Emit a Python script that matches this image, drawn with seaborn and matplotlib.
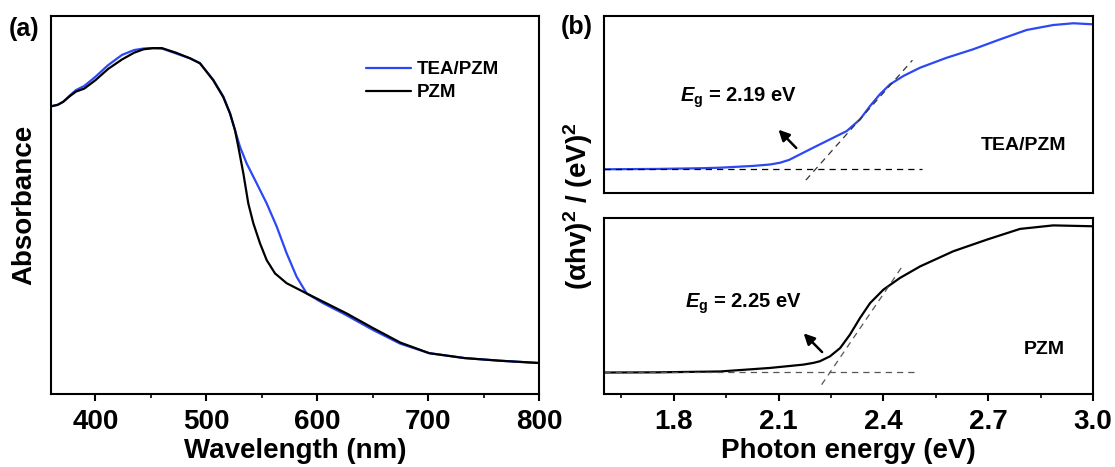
import matplotlib
matplotlib.use("Agg")
import matplotlib.pyplot as plt
from matplotlib.ticker import MultipleLocator, NullLocator
import seaborn as sns

# ---- data: panel (a) absorbance (arbitrary units) ----
wl_tea = [360, 366, 371, 377, 382.5, 390, 400, 411.5, 424, 435, 443.6, 452, 460, 472.6, 485.4,
          494.3, 506.3, 515.4, 521.4, 525.9, 530.4, 536.4, 545.5, 554.5, 563.5, 572.5, 581.5,
          590.5, 605.5, 623.5, 650.6, 675, 701, 733, 765, 800]
abs_tea = [0.761, 0.765, 0.773, 0.790, 0.804, 0.815, 0.839, 0.870, 0.897, 0.910, 0.914, 0.915,
           0.914, 0.901, 0.888, 0.875, 0.831, 0.787, 0.743, 0.698, 0.654, 0.610, 0.557, 0.504,
           0.443, 0.372, 0.310, 0.266, 0.240, 0.213, 0.169, 0.133, 0.108, 0.095, 0.088, 0.082]
wl_pzm = [360, 366, 371, 377, 382.5, 390, 400, 411.5, 424, 435, 443.6, 452, 460, 472.6, 485.4,
          494.3, 506.3, 515.4, 521.4, 525.9, 528.9, 533.4, 537.9, 542.4, 548.4, 554.5, 562,
          572.5, 590.5, 605.5, 626.6, 650.6, 675, 701, 733, 765, 800]
abs_pzm = [0.761, 0.765, 0.773, 0.788, 0.800, 0.808, 0.830, 0.860, 0.885, 0.903, 0.912, 0.915,
           0.915, 0.903, 0.888, 0.875, 0.830, 0.785, 0.742, 0.698, 0.654, 0.584, 0.504, 0.452,
           0.399, 0.354, 0.319, 0.293, 0.266, 0.244, 0.213, 0.174, 0.136, 0.108, 0.095, 0.088,
           0.082]

# ---- data: panel (b) Tauc plots ----
e_tea = [1.6, 1.75, 1.879, 1.932, 2.027, 2.075, 2.104, 2.130, 2.152, 2.199, 2.247, 2.295,
         2.333, 2.362, 2.390, 2.419, 2.457, 2.505, 2.581, 2.657, 2.734, 2.810, 2.886, 2.944, 3.0]
t_tea = [0.134, 0.136, 0.140, 0.143, 0.153, 0.161, 0.171, 0.187, 0.209, 0.256, 0.303, 0.350,
         0.416, 0.492, 0.558, 0.614, 0.661, 0.708, 0.764, 0.812, 0.868, 0.921, 0.949, 0.959,
         0.953]
e_pzm = [1.6, 1.75, 1.932, 2.075, 2.171, 2.200, 2.218, 2.247, 2.276, 2.304, 2.333, 2.362,
         2.400, 2.447, 2.505, 2.600, 2.696, 2.791, 2.886, 3.0]
t_pzm = [0.122, 0.123, 0.128, 0.148, 0.167, 0.177, 0.186, 0.214, 0.261, 0.337, 0.432, 0.517,
         0.593, 0.659, 0.725, 0.811, 0.877, 0.938, 0.958, 0.953]

base_tea_x = [1.6, 2.510]
base_tea_y = [0.134, 0.134]
tan_tea_x = [2.178, 2.483]
tan_tea_y = [0.073, 0.750]
base_pzm_x = [1.6, 2.495]
base_pzm_y = [0.123, 0.123]
tan_pzm_x = [2.223, 2.459]
tan_pzm_y = [0.053, 0.740]

wl_ticks = [400, 500, 600, 700, 800]
e_ticks = [1.8, 2.1, 2.4, 2.7, 3.0]

BLUE = "#2C48F5"

sns.set_style("ticks")
plt.rcParams['font.family'] = ['Liberation Sans', 'DejaVu Sans']
plt.rcParams['font.weight'] = 'bold'
plt.rcParams['axes.linewidth'] = 1.5
plt.rcParams['text.color'] = 'black'
plt.rcParams['axes.labelcolor'] = 'black'
plt.rcParams['xtick.color'] = 'black'
plt.rcParams['ytick.color'] = 'black'
plt.rcParams['mathtext.fontset'] = 'custom'
plt.rcParams['mathtext.rm'] = 'Liberation Sans:bold'
plt.rcParams['mathtext.it'] = 'Liberation Sans:italic:bold'
plt.rcParams['mathtext.bf'] = 'Liberation Sans:bold'

W, H = 1115, 467
fig = plt.figure(figsize=(W / 100, H / 100), dpi=100)

def rect(l, r, t, b):
    return [l / W, (H - b) / H, (r - l) / W, (b - t) / H]

axa = fig.add_axes(rect(51, 539, 16, 394))
axb1 = fig.add_axes(rect(604, 1093, 16, 193))
axb2 = fig.add_axes(rect(604, 1093, 218, 394))

# ---- panel (a) ----
sns.lineplot(x=wl_tea, y=abs_tea, ax=axa, color=BLUE, lw=1.6, label="TEA/PZM", sort=False)
sns.lineplot(x=wl_pzm, y=abs_pzm, ax=axa, color="black", lw=1.6, label="PZM", sort=False)
axa.set_xlim(360, 800)
axa.set_ylim(0, 1)
axa.set_xticks(wl_ticks)
axa.xaxis.set_minor_locator(MultipleLocator(50))
axa.yaxis.set_major_locator(NullLocator())
axa.tick_params(axis='x', which='major', length=5, width=1.5, labelsize=20, pad=6)
axa.tick_params(axis='x', which='minor', length=3, width=1.2)
axa.set_xlabel("Wavelength (nm)", fontsize=20, fontweight='bold', labelpad=2)
axa.set_ylabel("Absorbance", fontsize=20, fontweight='bold', labelpad=10)
leg = axa.legend(loc='upper left', bbox_to_anchor=(0.63, 0.90), frameon=False,
                 fontsize=13.5, handlelength=2.4, handletextpad=0.3, labelspacing=0.3,
                 borderaxespad=0)
for t in leg.get_texts():
    t.set_fontweight('bold')
    t.set_color('black')

# ---- panel (b) top ----
sns.lineplot(x=e_tea, y=t_tea, ax=axb1, color=BLUE, lw=1.6, sort=False)
axb1.plot(base_tea_x, base_tea_y, ls=(0, (5, 4)), color="black", lw=0.9)
axb1.plot(tan_tea_x, tan_tea_y, ls=(0, (5, 4)), color="#333333", lw=0.9)
axb1.set_xlim(1.6, 3.0)
axb1.set_ylim(0, 1)
axb1.xaxis.set_major_locator(NullLocator())
axb1.yaxis.set_major_locator(NullLocator())
axb1.text(1.819, 0.54, r"$\mathit{E}_{\mathrm{g}}$ = 2.19 eV", fontsize=14.5,
          fontweight='bold', ha='left', va='center')
axb1.annotate("", xy=(2.094, 0.369), xytext=(2.156, 0.243),
              arrowprops=dict(arrowstyle='-|>', lw=1.8, color='black', mutation_scale=16))
axb1.text(2.801, 0.27, "TEA/PZM", fontsize=14, fontweight='bold', ha='center', va='center')

# ---- panel (b) bottom ----
sns.lineplot(x=e_pzm, y=t_pzm, ax=axb2, color="black", lw=1.6, sort=False)
axb2.plot(base_pzm_x, base_pzm_y, ls=(0, (5, 4)), color="#555555", lw=0.9)
axb2.plot(tan_pzm_x, tan_pzm_y, ls=(0, (5, 4)), color="#555555", lw=0.9)
axb2.set_xlim(1.6, 3.0)
axb2.set_ylim(0, 1)
axb2.set_xticks(e_ticks)
axb2.set_xticklabels([f"{v:.1f}" for v in e_ticks])
axb2.xaxis.set_minor_locator(MultipleLocator(0.15))
axb2.yaxis.set_major_locator(NullLocator())
axb2.tick_params(axis='x', which='major', length=5, width=1.5, labelsize=20, pad=6)
axb2.tick_params(axis='x', which='minor', length=3, width=1.2)
axb2.set_xlabel("Photon energy (eV)", fontsize=20, fontweight='bold', labelpad=2)
axb2.text(1.833, 0.51, r"$\mathit{E}_{\mathrm{g}}$ = 2.25 eV", fontsize=14.5,
          fontweight='bold', ha='left', va='center')
axb2.annotate("", xy=(2.166, 0.356), xytext=(2.230, 0.227),
              arrowprops=dict(arrowstyle='-|>', lw=1.8, color='black', mutation_scale=16))
axb2.text(2.861, 0.254, "PZM", fontsize=14, fontweight='bold', ha='center', va='center')

for ax in (axa, axb1, axb2):
    for s in ax.spines.values():
        s.set_visible(True)
        s.set_linewidth(1.5)
        s.set_color('black')

fig.text(578 / W, 1 - 206 / H, r"($\mathbf{\alpha}$hv)$^{\mathbf{2}}$ / (eV)$^{\mathbf{2}}$",
         rotation=90, fontsize=20, fontweight='bold', ha='center', va='center')
fig.text(24 / W, 1 - 29 / H, "(a)", fontsize=18, fontweight='bold', ha='center', va='center')
fig.text(577 / W, 1 - 27 / H, "(b)", fontsize=18, fontweight='bold', ha='center', va='center')

fig.savefig("out.png", dpi=100)
